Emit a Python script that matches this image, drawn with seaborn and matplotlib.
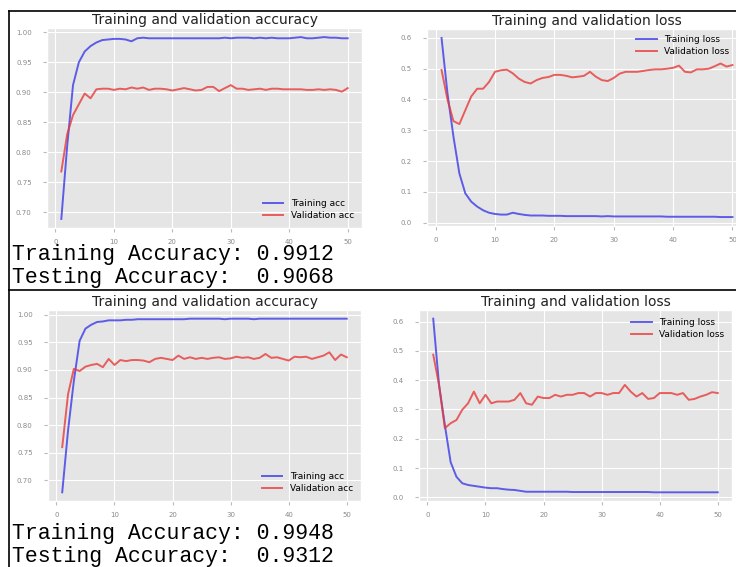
import matplotlib
matplotlib.use("Agg")
import matplotlib.pyplot as plt
import seaborn as sns
from matplotlib.lines import Line2D

# === Data ===
epochs = list(range(1, 51))

# run 1
acc_train_1 = [0.689, 0.810, 0.912, 0.950, 0.968, 0.977, 0.983, 0.987, 0.988, 0.989,
               0.989, 0.988, 0.985, 0.990, 0.991, 0.990, 0.990, 0.990, 0.990, 0.990,
               0.990, 0.990, 0.990, 0.990, 0.990, 0.990, 0.990, 0.990, 0.991, 0.990,
               0.991, 0.991, 0.991, 0.990, 0.991, 0.990, 0.991, 0.990, 0.990, 0.990,
               0.991, 0.992, 0.990, 0.990, 0.991, 0.992, 0.991, 0.991, 0.990, 0.990]
acc_val_1 = [0.768, 0.830, 0.862, 0.880, 0.898, 0.890, 0.905, 0.906, 0.906, 0.904,
             0.906, 0.905, 0.908, 0.906, 0.908, 0.904, 0.906, 0.906, 0.905, 0.903,
             0.905, 0.907, 0.905, 0.903, 0.904, 0.909, 0.909, 0.902, 0.907, 0.912,
             0.906, 0.906, 0.904, 0.905, 0.906, 0.904, 0.906, 0.906, 0.905, 0.905,
             0.905, 0.905, 0.904, 0.904, 0.905, 0.904, 0.905, 0.904, 0.901, 0.907]
loss_train_1 = [0.600, 0.420, 0.280, 0.160, 0.095, 0.068, 0.052, 0.040, 0.032, 0.028,
                0.026, 0.026, 0.032, 0.028, 0.025, 0.023, 0.023, 0.023, 0.022, 0.022,
                0.022, 0.021, 0.021, 0.021, 0.021, 0.021, 0.021, 0.020, 0.021, 0.020,
                0.020, 0.020, 0.020, 0.020, 0.020, 0.020, 0.020, 0.020, 0.019, 0.019,
                0.019, 0.019, 0.019, 0.019, 0.019, 0.019, 0.019, 0.018, 0.018, 0.018]
loss_val_1 = [0.496, 0.400, 0.330, 0.320, 0.365, 0.410, 0.435, 0.435, 0.457, 0.490,
              0.495, 0.497, 0.485, 0.468, 0.457, 0.452, 0.463, 0.470, 0.473, 0.480,
              0.480, 0.477, 0.472, 0.474, 0.477, 0.490, 0.474, 0.463, 0.460, 0.470,
              0.484, 0.490, 0.490, 0.490, 0.493, 0.496, 0.498, 0.498, 0.500, 0.503,
              0.510, 0.490, 0.488, 0.498, 0.498, 0.500, 0.508, 0.517, 0.507, 0.512]

# run 2
acc_train_2 = [0.678, 0.790, 0.880, 0.953, 0.975, 0.982, 0.987, 0.988, 0.990, 0.990,
               0.990, 0.991, 0.991, 0.992, 0.992, 0.992, 0.992, 0.992, 0.992, 0.992,
               0.992, 0.992, 0.993, 0.993, 0.993, 0.993, 0.993, 0.993, 0.992, 0.993,
               0.993, 0.993, 0.993, 0.992, 0.993, 0.993, 0.993, 0.993, 0.993, 0.993,
               0.993, 0.993, 0.993, 0.993, 0.993, 0.993, 0.993, 0.993, 0.993, 0.993]
acc_val_2 = [0.760, 0.856, 0.902, 0.898, 0.906, 0.909, 0.911, 0.905, 0.920, 0.909,
             0.918, 0.916, 0.918, 0.918, 0.917, 0.914, 0.920, 0.922, 0.920, 0.918,
             0.926, 0.920, 0.923, 0.920, 0.922, 0.920, 0.922, 0.923, 0.920, 0.921,
             0.924, 0.922, 0.923, 0.920, 0.922, 0.929, 0.922, 0.923, 0.920, 0.917,
             0.924, 0.923, 0.924, 0.920, 0.923, 0.926, 0.932, 0.918, 0.928, 0.923]
loss_train_2 = [0.610, 0.384, 0.247, 0.120, 0.070, 0.048, 0.042, 0.039, 0.036, 0.033,
                0.031, 0.031, 0.028, 0.026, 0.025, 0.022, 0.019, 0.019, 0.019, 0.019,
                0.019, 0.019, 0.019, 0.019, 0.018, 0.018, 0.018, 0.018, 0.018, 0.018,
                0.018, 0.018, 0.018, 0.018, 0.018, 0.018, 0.018, 0.018, 0.017, 0.017,
                0.017, 0.017, 0.017, 0.017, 0.017, 0.017, 0.017, 0.017, 0.017, 0.017]
loss_val_2 = [0.487, 0.384, 0.236, 0.253, 0.264, 0.299, 0.321, 0.361, 0.321, 0.350,
              0.321, 0.327, 0.327, 0.327, 0.333, 0.356, 0.321, 0.316, 0.344, 0.339,
              0.339, 0.350, 0.344, 0.350, 0.350, 0.356, 0.356, 0.344, 0.356, 0.356,
              0.350, 0.356, 0.356, 0.384, 0.361, 0.344, 0.356, 0.336, 0.339, 0.356,
              0.356, 0.356, 0.350, 0.356, 0.333, 0.336, 0.344, 0.350, 0.359, 0.356]

score_lines = [("Training Accuracy: 0.9912", "Testing Accuracy:  0.9068"),
               ("Training Accuracy: 0.9948", "Testing Accuracy:  0.9312")]

# === Figure setup ===
W, H = 736, 567
plt.style.use("ggplot")
fig = plt.figure(figsize=(W / 100, H / 100), dpi=100)
fig.patch.set_facecolor("white")


def box(l, t, r, b):
    # pixel box (from top-left) -> figure fraction
    return [l / W, 1 - b / H, (r - l) / W, (b - t) / H]


def draw_panel(ax, train, val, labels, title, legend_kw, yticks):
    sns.lineplot(x=epochs, y=train, ax=ax, color="#3a3ae8", alpha=0.8,
                 linewidth=1.4, label=labels[0])
    sns.lineplot(x=epochs, y=val, ax=ax, color="#e83a3a", alpha=0.8,
                 linewidth=1.4, label=labels[1])
    ax.set_title(title, fontsize=10, color="#222222", pad=3)
    ax.set_xticks([0, 10, 20, 30, 40, 50])
    ax.set_yticks(yticks)
    ax.tick_params(labelsize=5, labelcolor="#8a8a8a", length=3, color="#bbbbbb")
    ax.tick_params(axis="y", pad=8)
    ax.tick_params(axis="x", pad=5)
    ax.legend(fontsize=6.5, frameon=False, handlelength=2.3,
              labelspacing=0.3, **legend_kw)


acc_ticks = [0.70, 0.75, 0.80, 0.85, 0.90, 0.95, 1.00]
loss_ticks = [0.0, 0.1, 0.2, 0.3, 0.4, 0.5, 0.6]

ax1 = fig.add_axes(box(47, 28, 362, 228))
draw_panel(ax1, acc_train_1, acc_val_1, ["Training acc", "Validation acc"],
           "Training and validation accuracy", dict(loc="lower right"), acc_ticks)
ax2 = fig.add_axes(box(427, 29, 747, 226))
draw_panel(ax2, loss_train_1, loss_val_1, ["Training loss", "Validation loss"],
           "Training and validation loss",
           dict(loc="upper right", bbox_to_anchor=(0.97, 1.01)), loss_ticks)
ax3 = fig.add_axes(box(48, 310, 361, 501))
draw_panel(ax3, acc_train_2, acc_val_2, ["Training acc", "Validation acc"],
           "Training and validation accuracy", dict(loc="lower right"), acc_ticks)
ax4 = fig.add_axes(box(419, 310, 732, 501))
draw_panel(ax4, loss_train_2, loss_val_2, ["Training loss", "Validation loss"],
           "Training and validation loss", dict(loc="upper right"), loss_ticks)

# === Score text under the accuracy plots ===
for (l1, l2), (y1, y2) in zip(score_lines, [(260, 283), (539, 562)]):
    fig.text(12 / W, 1 - y1 / H, l1, family="Liberation Mono", fontsize=15.5,
             color="black", va="baseline")
    fig.text(12 / W, 1 - y2 / H, l2, family="Liberation Mono", fontsize=15.5,
             color="black", va="baseline")

# === Table border lines ===
for xs, ys in [([9, 9], [11, H]), ([9, W], [11, 11]), ([9, W], [290, 290])]:
    fig.add_artist(Line2D([x / W for x in xs], [1 - y / H for y in ys],
                          color="black", linewidth=1.2))

fig.savefig("out.png", dpi=100)
